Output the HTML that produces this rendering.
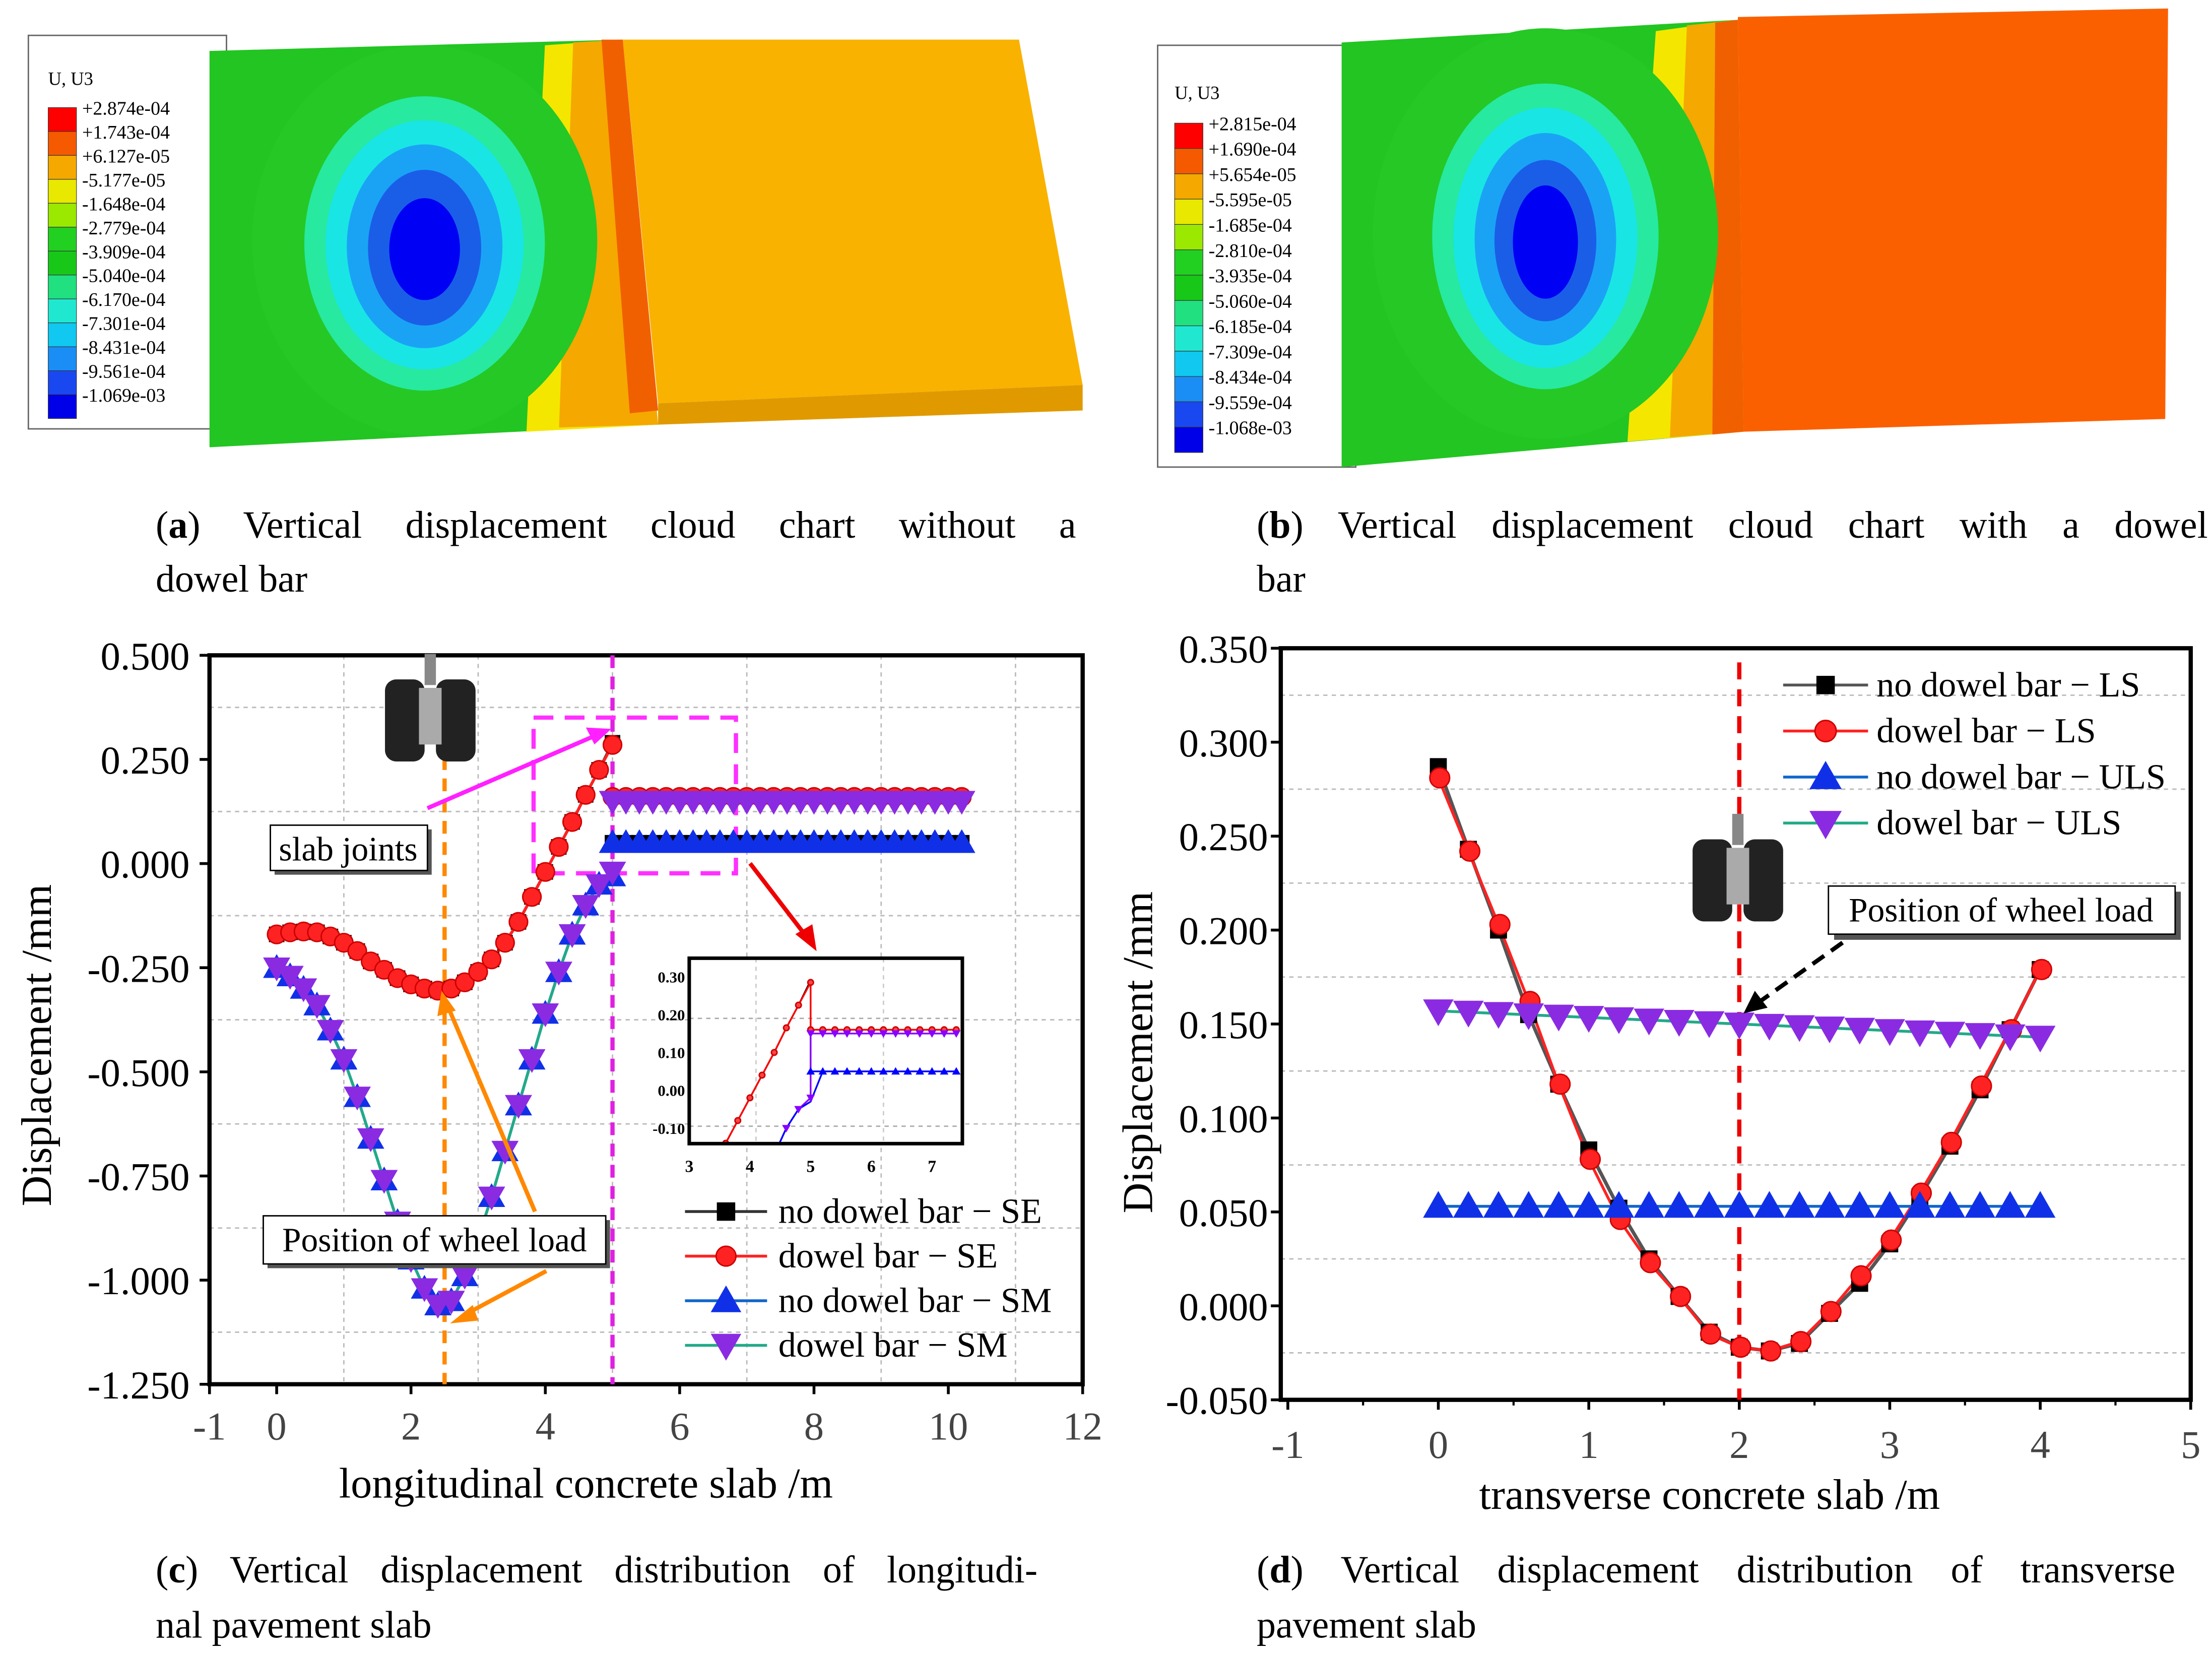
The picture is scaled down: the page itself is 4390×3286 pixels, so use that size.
<!DOCTYPE html>
<html><head><meta charset="utf-8">
<style>
html,body{margin:0;padding:0;background:#fff;}
svg{display:block;}
text{font-family:"Liberation Serif",serif;}
</style></head>
<body>
<svg id="root" xmlns="http://www.w3.org/2000/svg" width="4390" height="3286" viewBox="0 0 1563 1170">
<rect x="0" y="0" width="1563" height="1170" fill="#fff"/>

<!-- Panel a -->
<g>
  <rect x="20" y="25" width="140" height="278" fill="#fff" stroke="#666" stroke-width="1"/>
  <polygon points="148,36 440,28 465,300 148,316" fill="#22c522"/>
  <polygon points="385,32 440,28 465,300 372,305" fill="#f5e600"/>
  <polygon points="405,30 440,28 465,300 395,302" fill="#f5a800"/>
  <polygon points="425,28 440,28 465,290 445,292" fill="#f06000"/>
  <polygon points="440,28 720,28 765,272 465,285" fill="#f9b200"/>
  <polygon points="465,285 765,272 765,290 465,300" fill="#e09a00"/>
  <ellipse cx="300" cy="170" rx="122" ry="138" fill="#25c825"/>
  <ellipse cx="300" cy="172" rx="85" ry="104" fill="#27e9a0"/>
  <ellipse cx="300" cy="173" rx="70" ry="88" fill="#19e5e5"/>
  <ellipse cx="300" cy="174" rx="55" ry="72" fill="#1aa3f5"/>
  <ellipse cx="300" cy="175" rx="40" ry="55" fill="#1a5ee8"/>
  <ellipse cx="300" cy="176" rx="25" ry="36" fill="#0000f5"/>
  <text x="34" y="60" font-size="13">U, U3</text>
  <g id="legA"></g>
</g>
<text x="110" y="380" font-size="27" word-spacing="24">(<tspan font-weight="bold">a</tspan>) Vertical displacement cloud chart without a</text>
<text x="110" y="418" font-size="27">dowel bar</text>

<!-- Panel b -->
<g>
  <rect x="818" y="32" width="140" height="298" fill="#fff" stroke="#666" stroke-width="1"/>
  <polygon points="948,30 1228,14 1232,305 948,330" fill="#22c522"/>
  <polygon points="1170,22 1228,14 1232,305 1150,312" fill="#f5e600"/>
  <polygon points="1192,18 1228,14 1232,305 1180,309" fill="#f5a800"/>
  <polygon points="1212,16 1228,14 1232,305 1210,307" fill="#f06000"/>
  <polygon points="1228,12 1532,6 1530,296 1232,305" fill="#fb6000"/>
  <ellipse cx="1092" cy="165" rx="122" ry="145" fill="#25c825"/>
  <ellipse cx="1092" cy="167" rx="80" ry="108" fill="#27e9a0"/>
  <ellipse cx="1092" cy="168" rx="65" ry="92" fill="#19e5e5"/>
  <ellipse cx="1092" cy="169" rx="50" ry="75" fill="#1aa3f5"/>
  <ellipse cx="1092" cy="170" rx="36" ry="57" fill="#1a5ee8"/>
  <ellipse cx="1092" cy="171" rx="23" ry="40" fill="#0000f5"/>
  <text x="830" y="70" font-size="13">U, U3</text>
  <g id="legB"></g>
</g>
<text x="888" y="380" font-size="27" word-spacing="18">(<tspan font-weight="bold">b</tspan>) Vertical displacement cloud chart with a dowel</text>
<text x="888" y="418" font-size="27">bar</text>

<!-- Panel c -->
<g id="chartC"></g>
<text x="110" y="1118" font-size="27" word-spacing="16">(<tspan font-weight="bold">c</tspan>) Vertical displacement distribution of longitudi-</text>
<text x="110" y="1157" font-size="27">nal pavement slab</text>

<!-- Panel d -->
<g id="chartD"></g>
<text x="888" y="1118" font-size="27" word-spacing="20">(<tspan font-weight="bold">d</tspan>) Vertical displacement distribution of transverse</text>
<text x="888" y="1157" font-size="27">pavement slab</text>
</svg>

<script>
// ---------- chart c data ----------
const cX = [0,0.2,0.4,0.6,0.8,1.0,1.2,1.4,1.6,1.8,2.0,2.2,2.4,2.6,2.8,3.0,3.2,3.4,3.6,3.8,4.0,4.2,4.4,4.6,4.8,5.0];
const cSE = [-0.17,-0.165,-0.163,-0.165,-0.175,-0.19,-0.21,-0.235,-0.255,-0.275,-0.29,-0.30,-0.305,-0.30,-0.285,-0.26,-0.23,-0.19,-0.14,-0.08,-0.02,0.04,0.10,0.165,0.225,0.285];
const cSEnd = [-0.17,-0.165,-0.163,-0.165,-0.175,-0.19,-0.21,-0.235,-0.255,-0.275,-0.29,-0.30,-0.305,-0.30,-0.285,-0.26,-0.23,-0.19,-0.14,-0.08,-0.02,0.04,0.10,0.165,0.225,0.29];
const cSM = [-0.25,-0.27,-0.30,-0.34,-0.40,-0.47,-0.56,-0.66,-0.76,-0.86,-0.95,-1.02,-1.06,-1.05,-0.99,-0.90,-0.80,-0.69,-0.58,-0.47,-0.36,-0.26,-0.17,-0.10,-0.05,-0.02];
const cSMnd = [-0.25,-0.27,-0.30,-0.34,-0.40,-0.47,-0.56,-0.66,-0.76,-0.86,-0.95,-1.02,-1.06,-1.05,-0.99,-0.90,-0.80,-0.69,-0.58,-0.47,-0.36,-0.26,-0.17,-0.10,-0.05,-0.03];
const cXR = [5.0,5.2,5.4,5.6,5.8,6.0,6.2,6.4,6.6,6.8,7.0,7.2,7.4,7.6,7.8,8.0,8.2,8.4,8.6,8.8,9.0,9.2,9.4,9.6,9.8,10.0,10.2];
const cSER = 0.16, cSMR = 0.15, cNDR = 0.05;
const cXTicks = [-1,0,2,4,6,8,10,12];
const cYTicks = [0.5,0.25,0,-0.25,-0.5,-0.75,-1.0,-1.25];
const cYLabels = ["0.500","0.250","0.000","-0.250","-0.500","-0.750","-1.000","-1.250"];
// ---------- chart d data ----------
const dX = [0,0.2,0.4,0.6,0.8,1.0,1.2,1.4,1.6,1.8,2.0,2.2,2.4,2.6,2.8,3.0,3.2,3.4,3.6,3.8,4.0];
const dLS = [0.281,0.242,0.203,0.162,0.118,0.078,0.046,0.023,0.005,-0.015,-0.022,-0.024,-0.019,-0.003,0.016,0.035,0.06,0.087,0.117,0.147,0.179];
const dLSnd = [0.287,0.243,0.2,0.155,0.118,0.083,0.052,0.025,0.005,-0.014,-0.022,-0.024,-0.02,-0.004,0.012,0.033,0.058,0.085,0.115,0.147,0.179];
const dULSstart = 0.157, dULSend = 0.143, dULSnd = 0.053;
const dXTicks = [-1,0,1,2,3,4,5];
const dYTicks = [0.35,0.30,0.25,0.20,0.15,0.10,0.05,0,-0.05];
const dYLabels = ["0.350","0.300","0.250","0.200","0.150","0.100","0.050","0.000","-0.050"];
// legends of contour
const legAVals = ["+2.874e-04","+1.743e-04","+6.127e-05","-5.177e-05","-1.648e-04","-2.779e-04","-3.909e-04","-5.040e-04","-6.170e-04","-7.301e-04","-8.431e-04","-9.561e-04","-1.069e-03"];
const legBVals = ["+2.815e-04","+1.690e-04","+5.654e-05","-5.595e-05","-1.685e-04","-2.810e-04","-3.935e-04","-5.060e-04","-6.185e-04","-7.309e-04","-8.434e-04","-9.559e-04","-1.068e-03"];
const legColors = ["#f00","#f55a00","#f5a800","#e8e800","#9be800","#22d022","#18c818","#20e080","#20e8d0","#10c8f0","#1a8ef5","#1a48f0","#0000e8"];

const NS="http://www.w3.org/2000/svg";
function mk(parent,tag,attrs,txt){const e=document.createElementNS(NS,tag);for(const k in attrs)e.setAttribute(k,attrs[k]);if(txt!==undefined)e.textContent=txt;parent.appendChild(e);return e;}

function contourLegend(gid,x,y,vals,step){
  const g=document.getElementById(gid);
  for(let i=0;i<vals.length;i++){
    const r=mk(g,'rect',{x:x,y:y+i*step,width:20,height:step,fill:legColors[i],stroke:'#333','stroke-width':0.4});
    
    
  }
  for(let i=0;i<vals.length;i++){
    const t=mk(g,'text',{x:x+24,y:y+i*step+5,'font-size':13.5},vals[i]);
    
    
  }
}
contourLegend('legA',34,76,legAVals,16.9);
contourLegend('legB',830,87,legBVals,17.9);

function circleM(g,x,y,r,fill,stroke){return mk(g,'circle',{cx:x,cy:y,r:r,fill:fill,stroke:stroke||fill,'stroke-width':1});}
function sqM(g,x,y,s,fill){return mk(g,'rect',{x:x-s/2,y:y-s/2,width:s,height:s,fill:fill});}
function triUp(g,x,y,s,fill){return mk(g,'polygon',{points:`${x},${y-s*0.6} ${x-s*0.6},${y+s*0.45} ${x+s*0.6},${y+s*0.45}`,fill:fill});}
function triDn(g,x,y,s,fill){return mk(g,'polygon',{points:`${x},${y+s*0.6} ${x-s*0.6},${y-s*0.45} ${x+s*0.6},${y-s*0.45}`,fill:fill});}
function poly(g,pts,color,w,dash){return mk(g,'polyline',{points:pts.map(p=>p.join(',')).join(' '),fill:'none',stroke:color,'stroke-width':w||2,'stroke-dasharray':dash||'none'});}
function wheel(g,x,y){
  const w=mk(g,'g',{});
  
  
  mk(w,'rect',{x:x+28,y:y,width:8,height:22,fill:'#888'});
  mk(w,'rect',{x:x,y:y+18,width:28,height:58,rx:8,fill:'#222'});
  mk(w,'rect',{x:x+36,y:y+18,width:28,height:58,rx:8,fill:'#222'});
  mk(w,'rect',{x:x+24,y:y+24,width:16,height:40,fill:'#aaa'});
}

// ===== Chart C =====
(function(){
  const g=document.getElementById('chartC');
  const L=148,R=765,T=463,B=978;
  const X=v=>L+(v+1)*(R-L)/13;
  const Y=v=>T+(0.5-v)*(B-T)/1.75;
  for(const v of [0.375,0.125,-0.125,-0.375,-0.625,-0.875,-1.125]){mk(g,'line',{x1:L,x2:R,y1:Y(v),y2:Y(v),stroke:'#bbb','stroke-dasharray':'3,3','stroke-width':1});}
  for(const v of [1,3,5,7,9,11]){mk(g,'line',{x1:X(v),x2:X(v),y1:T,y2:B,stroke:'#bbb','stroke-dasharray':'3,3','stroke-width':1});}
  const fr=mk(g,'rect',{x:L,y:T,width:R-L,height:B-T,fill:'none',stroke:'#000','stroke-width':3});
  
  
  cXTicks.forEach(v=>{mk(g,'line',{x1:X(v),x2:X(v),y1:B,y2:B+7,stroke:'#000','stroke-width':2});
    const t=mk(g,'text',{x:X(v),y:B+39,'font-size':28,'text-anchor':'middle',fill:'#444'},String(v));
    
    });
  cYTicks.forEach((v,i)=>{mk(g,'line',{x1:L-7,x2:L,y1:Y(v),y2:Y(v),stroke:'#000','stroke-width':2});
    const t=mk(g,'text',{x:L-14,y:Y(v)+10,'font-size':28,'text-anchor':'end'},cYLabels[i]);
    
    });
  const xt=mk(g,'text',{x:414,y:1058,'font-size':30,'text-anchor':'middle'},'longitudinal concrete  slab /m');
  
  
  const yt=mk(g,'text',{x:0,y:0,'font-size':30,'text-anchor':'middle',transform:`translate(36,${(T+B)/2+18}) rotate(-90)`},'Displacement /mm');
  
  
  mk(g,'line',{x1:X(2.5),x2:X(2.5),y1:535,y2:B,stroke:'#f80','stroke-width':3,'stroke-dasharray':'9,6'});
  mk(g,'line',{x1:X(5),x2:X(5),y1:T,y2:B,stroke:'#e020e0','stroke-width':3,'stroke-dasharray':'9,6'});
  mk(g,'rect',{x:377,y:507,width:143,height:110,fill:'none',stroke:'#ff30ff','stroke-width':3,'stroke-dasharray':'14,8'});
  poly(g,cX.map((x,i)=>[X(x),Y(cSEnd[i])]),'#333',2);
  poly(g,cX.map((x,i)=>[X(x),Y(cSE[i])]),'#f22',2);
  poly(g,cX.map((x,i)=>[X(x),Y(cSMnd[i])]),'#16c',2);
  poly(g,cX.map((x,i)=>[X(x),Y(cSM[i])]),'#2a8',2);
  poly(g,cXR.map(x=>[X(x),Y(cNDR)]),'#16c',2);
  poly(g,cXR.map(x=>[X(x),Y(cSMR)]),'#2a8',2);
  poly(g,cXR.map(x=>[X(x),Y(cSER)]),'#f22',2);
  const mg=mk(g,'g',{});
  
  
  cX.forEach((x,i)=>{sqM(mg,X(x),Y(cSEnd[i]),11,'#000');});
  cX.forEach((x,i)=>{circleM(mg,X(x),Y(cSE[i]),6.5,'#f22','#c00');});
  cX.forEach((x,i)=>{triUp(mg,X(x),Y(cSMnd[i]),16,'#1030e8');});
  cX.forEach((x,i)=>{triDn(mg,X(x),Y(cSM[i]),16,'#8a2be2');});
  cXR.forEach(x=>{sqM(mg,X(x),Y(cNDR),11,'#000');});
  cXR.forEach(x=>{triUp(mg,X(x),Y(cNDR),16,'#1030e8');});
  cXR.forEach(x=>{circleM(mg,X(x),Y(cSER),6.5,'#f22','#c00');});
  cXR.forEach(x=>{triDn(mg,X(x),Y(cSMR),16,'#8a2be2');});
  wheel(g,272,462);
  const a1=mk(g,'g',{});
  
  
  mk(a1,'rect',{x:194,y:586,width:111,height:32,fill:'#555'});
  mk(a1,'rect',{x:191,y:583,width:111,height:32,fill:'#fff',stroke:'#000'});
  mk(a1,'text',{x:246,y:608,'font-size':24,'text-anchor':'middle'},'slab joints');
  mk(g,'line',{x1:302,y1:571,x2:420,y2:520,stroke:'#ff20ff','stroke-width':3});
  mk(g,'polygon',{points:'432,515 414,514 420,526',fill:'#ff20ff'});
  const a2=mk(g,'g',{});
  
  
  mk(a2,'rect',{x:189,y:862,width:242,height:34,fill:'#555'});
  mk(a2,'rect',{x:186,y:859,width:242,height:34,fill:'#fff',stroke:'#000'});
  mk(a2,'text',{x:307,y:884,'font-size':24,'text-anchor':'middle'},'Position of wheel load');
  mk(g,'line',{x1:378,y1:856,x2:316,y2:710,stroke:'#f80','stroke-width':3});
  mk(g,'polygon',{points:'312,700 309,718 322,714',fill:'#f80'});
  mk(g,'line',{x1:386,y1:898,x2:330,y2:928,stroke:'#f80','stroke-width':3});
  mk(g,'polygon',{points:'318,935 334,922 338,933',fill:'#f80'});
  mk(g,'line',{x1:530,y1:610,x2:570,y2:662,stroke:'#e00','stroke-width':3});
  mk(g,'polygon',{points:'577,672 562,660 574,653',fill:'#e00'});
  // inset
  const ig=mk(g,'g',{});
  
  
  const iL=487,iR=680,iT=677,iB=808;
  const IX=v=>iL+(v-3)*(iR-iL)/4.5;
  const IY=v=>iT+(0.349-v)*(iB-iT)/0.49;
  mk(ig,'rect',{x:iL,y:iT,width:iR-iL,height:iB-iT,fill:'#fff'});
  [4.1,6.2].forEach(v=>mk(ig,'line',{x1:IX(v),x2:IX(v),y1:iT,y2:iB,stroke:'#ccc','stroke-dasharray':'3,3'}));
  [0.19,-0.095].forEach(v=>mk(ig,'line',{x1:iL,x2:iR,y1:IY(v),y2:IY(v),stroke:'#aaa','stroke-dasharray':'3,3'}));
  const clip=mk(ig,'clipPath',{id:'insetClip'});mk(clip,'rect',{x:iL,y:iT,width:iR-iL,height:iB-iT});
  const ic=mk(ig,'g',{'clip-path':'url(#insetClip)'});
  const sel=cX.map((x,i)=>i).filter(i=>cX[i]>=3.2);
  poly(ic,sel.map(i=>[IX(cX[i]),IY(cSEnd[i])]).concat([[IX(5),IY(cNDR)]]),'#000',1.2);
  poly(ic,sel.map(i=>[IX(cX[i]),IY(cSE[i])]).concat([[IX(5),IY(cSER)]]),'#f00',1.2);
  poly(ic,sel.map(i=>[IX(cX[i]),IY(cSM[i])]).concat([[IX(5),IY(cSMR)]]),'#80f',1.2);
  poly(ic,sel.map(i=>[IX(cX[i]),IY(cSMnd[i])]).concat([[IX(5.2),IY(cNDR)]]),'#00f',1.2);
  const xr=cXR.filter(x=>x<=7.4);
  poly(ic,xr.map(x=>[IX(x),IY(cSER)]),'#f00',1.2);
  poly(ic,xr.map(x=>[IX(x),IY(cSMR)]),'#80f',1.2);
  poly(ic,xr.map(x=>[IX(x),IY(cNDR)]),'#00f',1.2);
  sel.forEach(i=>{circleM(ic,IX(cX[i]),IY(cSE[i]),2,'#f44','#c00');});
  sel.forEach(i=>{triDn(ic,IX(cX[i]),IY(cSM[i]),5,'#80f');});
  xr.forEach(x=>{circleM(ic,IX(x),IY(cSER),2,'#f44','#c00');triDn(ic,IX(x),IY(cSMR),5,'#80f');triUp(ic,IX(x),IY(cNDR),5,'#00f');});
  mk(ig,'rect',{x:iL,y:iT,width:iR-iL,height:iB-iT,fill:'none',stroke:'#000','stroke-width':2.5});
  [3,4,5,6,7].forEach(v=>{const t=mk(ig,'text',{x:IX(v),y:iB+20,'font-size':12,'font-weight':'bold','text-anchor':'middle'},String(v));
    
    });
  [[0.30,'0.30'],[0.20,'0.20'],[0.10,'0.10'],[0,'0.00'],[-0.10,'-0.10']].forEach(p=>{const t=mk(ig,'text',{x:iL-3,y:IY(p[0])+4,'font-size':11,'font-weight':'bold','text-anchor':'end'},p[1]);
    
    });
  // legend
  const lg=mk(g,'g',{});
  
  
  const items=[['no dowel bar − SE','#333','sq'],['dowel bar − SE','#f22','ci'],['no dowel bar − SM','#16c','tu'],['dowel bar − SM','#2a8','td']];
  items.forEach((it,i)=>{const y=856+i*31.5;
    const e=mk(lg,'g',{});
    
    
    mk(e,'line',{x1:484,x2:542,y1:y,y2:y,stroke:it[1],'stroke-width':2});
    if(it[2]=='sq')sqM(e,513,y,13,'#000');
    if(it[2]=='ci')circleM(e,513,y,7,'#f22','#c00');
    if(it[2]=='tu')triUp(e,513,y,18,'#1030e8');
    if(it[2]=='td')triDn(e,513,y,18,'#8a2be2');
    mk(e,'text',{x:550,y:y+8,'font-size':25},it[0]);});
})();

// ===== Chart D =====
(function(){
  const g=document.getElementById('chartD');
  const L=905,R=1548,T=458,B=989;
  const X=v=>910+(v+1)*(R-910)/6;
  const Y=v=>T+(0.35-v)*(B-T)/0.40;
  for(const v of [0.325,0.275,0.225,0.175,0.125,0.075,0.025,-0.025]){mk(g,'line',{x1:L,x2:R,y1:Y(v),y2:Y(v),stroke:'#bbb','stroke-dasharray':'3,3','stroke-width':1});}
  const fr=mk(g,'rect',{x:L,y:T,width:R-L,height:B-T,fill:'none',stroke:'#000','stroke-width':3});
  
  
  dXTicks.forEach(v=>{mk(g,'line',{x1:X(v),x2:X(v),y1:B,y2:B+7,stroke:'#000','stroke-width':2});
    const t=mk(g,'text',{x:X(v),y:B+41,'font-size':28,'text-anchor':'middle',fill:'#444'},String(v));
    
    });
  [-0.5,0.5,1.5,2.5,3.5,4.5].forEach(v=>mk(g,'line',{x1:X(v),x2:X(v),y1:B,y2:B+4,stroke:'#000','stroke-width':1.5}));
  dYTicks.forEach((v,i)=>{mk(g,'line',{x1:L-7,x2:L,y1:Y(v),y2:Y(v),stroke:'#000','stroke-width':2});
    const t=mk(g,'text',{x:L-9,y:Y(v)+10,'font-size':28,'text-anchor':'end'},dYLabels[i]);
    
    });
  const xt=mk(g,'text',{x:1208,y:1066,'font-size':30,'text-anchor':'middle'},'transverse concrete  slab /m');
  
  
  const yt=mk(g,'text',{x:0,y:0,'font-size':30,'text-anchor':'middle',transform:`translate(814,${(T+B)/2+20}) rotate(-90)`},'Displacement /mm');
  
  
  mk(g,'line',{x1:X(2),x2:X(2),y1:468,y2:B,stroke:'#e00','stroke-width':3,'stroke-dasharray':'12,7'});
  const uls=dX.map(x=>dULSstart+(dULSend-dULSstart)*x/4);
  poly(g,dX.map((x,i)=>[X(x),Y(dLSnd[i])]),'#555',2.5);
  poly(g,dX.map((x,i)=>[X(x),Y(dLS[i])]),'#f22',2);
  poly(g,dX.map(x=>[X(x),Y(dULSnd)]),'#16c',2);
  poly(g,dX.map((x,i)=>[X(x),Y(uls[i])]),'#2a8',2);
  const mg=mk(g,'g',{});
  
  
  dX.forEach((x,i)=>sqM(mg,X(x),Y(dLSnd[i]),12,'#000'));
  dX.forEach((x,i)=>circleM(mg,X(x)+1,Y(dLS[i]),7,'#f22','#c00'));
  dX.forEach(x=>triUp(mg,X(x),Y(dULSnd),18,'#1030e8'));
  dX.forEach((x,i)=>triDn(mg,X(x),Y(uls[i]),18,'#8a2be2'));
  wheel(g,1196,575);
  const a=mk(g,'g',{});
  
  
  mk(a,'rect',{x:1296,y:630,width:245,height:34,fill:'#555'});
  mk(a,'rect',{x:1292,y:626,width:245,height:34,fill:'#fff',stroke:'#000'});
  mk(a,'text',{x:1414,y:651,'font-size':24,'text-anchor':'middle'},'Position of wheel load');
  mk(g,'line',{x1:1302,y1:666,x2:1243,y2:708,stroke:'#000','stroke-width':3,'stroke-dasharray':'10,6'});
  mk(g,'polygon',{points:'1232,716 1240,700 1249,712',fill:'#000'});
  const lg=mk(g,'g',{});
  
  
  const items=[['no dowel bar − LS','#555','sq'],['dowel bar − LS','#f22','ci'],['no dowel bar − ULS','#16c','tu'],['dowel bar − ULS','#2a8','td']];
  items.forEach((it,i)=>{const y=484+i*32.5;
    const e=mk(lg,'g',{});
    
    
    mk(e,'line',{x1:1260,x2:1320,y1:y,y2:y,stroke:it[1],'stroke-width':2});
    if(it[2]=='sq')sqM(e,1290,y,13,'#000');
    if(it[2]=='ci')circleM(e,1290,y,7.5,'#f22','#c00');
    if(it[2]=='tu')triUp(e,1290,y,19,'#1030e8');
    if(it[2]=='td')triDn(e,1290,y,19,'#8a2be2');
    mk(e,'text',{x:1326,y:y+8,'font-size':25},it[0]);});
})();
</script>
</body></html>
